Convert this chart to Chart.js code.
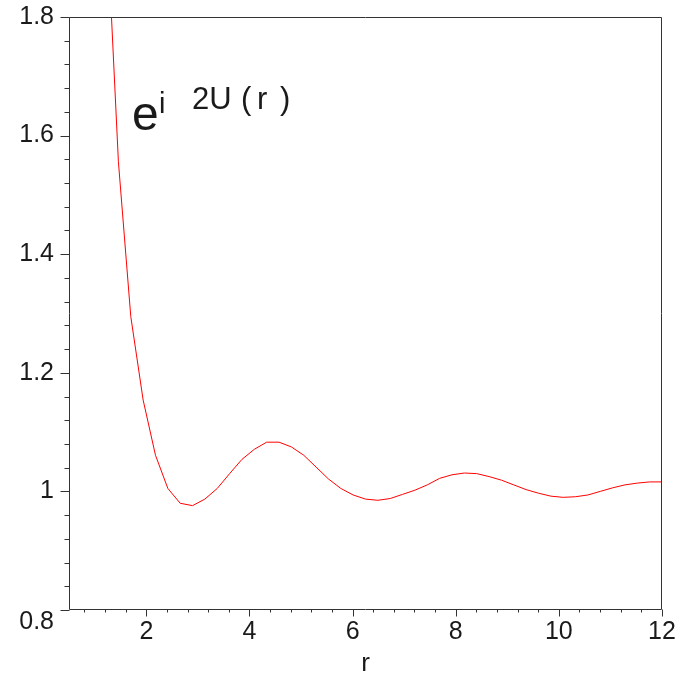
<!doctype html>
<html>

<head>
    <meta charset="utf-8" />
    <title>e^-2U(r)</title>
    <script src="https://cdn.jsdelivr.net/npm/chart.js@4.4.1/dist/chart.umd.min.js"></script>
    <style>
        html, body { margin: 0; padding: 0; background: #fff; }
        #wrap { width: 677px; height: 676px; position: relative; }
    </style>
</head>

<body>
    <div id="wrap"><canvas id="myChart"></canvas></div>
    <script>
        // sample points of the curve (r, e^-2U(r))
        var rValues = [1.219, 1.458, 1.698, 1.938, 2.177, 2.417, 2.656, 2.896, 3.135, 3.375,
            3.615, 3.854, 4.094, 4.333, 4.573, 4.813, 5.052, 5.292, 5.531, 5.771,
            6.010, 6.250, 6.490, 6.729, 6.969, 7.208, 7.448, 7.688, 7.927, 8.167,
            8.406, 8.646, 8.885, 9.125, 9.365, 9.604, 9.844, 10.083, 10.323, 10.563,
            10.802, 11.042, 11.281, 11.521, 11.760, 12.0];
        var gValues = [1.99, 1.556, 1.295, 1.154, 1.061, 1.005, 0.980, 0.976, 0.987, 1.005,
            1.030, 1.054, 1.071, 1.083, 1.083, 1.075, 1.061, 1.041, 1.021, 1.005,
            0.994, 0.987, 0.985, 0.988, 0.995, 1.002, 1.011, 1.022, 1.028, 1.031,
            1.030, 1.025, 1.019, 1.011, 1.003, 0.997, 0.992, 0.990, 0.991, 0.994,
            1.000, 1.006, 1.011, 1.014, 1.016, 1.016];

        var xTickLabels = ['2', '4', '6', '8', '10', '12'];
        var yTickLabels = ['0.8', '1', '1.2', '1.4', '1.6', '1.8'];

        var FONT = '"Liberation Sans", Arial, Helvetica, sans-serif';
        var INK = '#1a1a1a';

        function xLabel(v) {
            var s = String(Math.round(v * 10) / 10);
            return xTickLabels.indexOf(s) >= 0 ? s : '';
        }
        function yLabel(v) {
            var s = String(Math.round(v * 100) / 100);
            return yTickLabels.indexOf(s) >= 0 ? s : '';
        }

        // frame, minor/major tick marks, the shifted 0.8 label and the formula
        var framePlugin = {
            id: 'frame',
            afterDraw: function (chart) {
                var ctx = chart.ctx, a = chart.chartArea;
                var xs = chart.scales.x, ys = chart.scales.y;
                var L = Math.round(a.left) + 0.5, R = Math.round(a.right) - 0.5;
                var T = Math.round(a.top) + 0.5, B = Math.round(a.bottom) - 0.5;
                ctx.save();
                ctx.strokeStyle = '#333';
                ctx.lineWidth = 1;
                ctx.beginPath();
                ctx.rect(L, T, R - L, B - T);
                xs.ticks.forEach(function (t) {
                    var px = Math.round(xs.getPixelForValue(t.value)) + 0.5;
                    var len = xLabel(t.value) !== '' ? 7 : 3;
                    ctx.moveTo(px, B);
                    ctx.lineTo(px, B + len);
                });
                ys.ticks.forEach(function (t) {
                    var py = Math.round(ys.getPixelForValue(t.value)) + 0.5;
                    var len = yLabel(t.value) !== '' ? 9 : 5;
                    ctx.moveTo(L, py);
                    ctx.lineTo(L - len, py);
                });
                ctx.stroke();

                // 0.8 sits a bit below its tick
                ctx.fillStyle = INK;
                ctx.font = '25px ' + FONT;
                ctx.textAlign = 'right';
                ctx.textBaseline = 'middle';
                ctx.fillText(yTickLabels[0], ys.right - 15, ys.getPixelForValue(0.8) + 12);

                // formula label
                var ax = xs.getPixelForValue(1.72), ay = ys.getPixelForValue(1.61);
                ctx.textAlign = 'left';
                ctx.textBaseline = 'alphabetic';
                ctx.font = '48px ' + FONT;
                ctx.fillText('e', ax, ay);
                ctx.font = '29px ' + FONT;
                ctx.fillText('i', ax + 27, ay - 17);
                ctx.font = '31px ' + FONT;
                ctx.fillText('2U', ax + 60, ay - 21);
                ctx.fillText('(', ax + 109, ay - 21);
                ctx.fillText('r', ax + 125, ay - 21);
                ctx.fillText(')', ax + 148, ay - 21);
                ctx.restore();
            }
        };

        var points = rValues.map(function (r, i) { return { x: r, y: gValues[i] }; });

        var chart = new Chart(document.getElementById('myChart'), {
            type: 'line',
            data: {
                datasets: [{
                    label: 'e^-2U(r)',
                    data: points,
                    borderColor: '#ff0000',
                    borderWidth: 1,
                    pointRadius: 0,
                    tension: 0,
                    fill: false
                }]
            },
            options: {
                responsive: true,
                maintainAspectRatio: false,
                animation: false,
                layout: { padding: { top: 17, right: 15, bottom: 0, left: 0 } },
                plugins: { legend: { display: false }, tooltip: { enabled: false } },
                scales: {
                    x: {
                        type: 'linear',
                        min: 0.5,
                        max: 12,
                        afterFit: function (s) {
                            s.height = 66;
                            s.paddingLeft = 0;
                            s.paddingRight = 0;
                        },
                        border: { display: false },
                        grid: { display: false, drawTicks: false },
                        ticks: {
                            stepSize: 0.4,
                            includeBounds: false,
                            autoSkip: false,
                            maxRotation: 0,
                            padding: 7,
                            color: INK,
                            font: { family: FONT, size: 25 },
                            callback: function (v) { return xLabel(v); }
                        },
                        title: {
                            display: true,
                            text: 'r',
                            color: INK,
                            font: { family: FONT, size: 26 },
                            padding: { top: 0, bottom: -3 }
                        }
                    },
                    y: {
                        type: 'linear',
                        min: 0.8,
                        max: 1.8,
                        afterFit: function (s) {
                            s.width = 69;
                            s.paddingTop = 0;
                            s.paddingBottom = 0;
                        },
                        border: { display: false },
                        grid: { display: false, drawTicks: false },
                        ticks: {
                            stepSize: 0.04,
                            autoSkip: false,
                            padding: 15,
                            color: INK,
                            font: { family: FONT, size: 25 },
                            callback: function (v) {
                                var s = yLabel(v);
                                return s === yTickLabels[0] ? '' : s;
                            }
                        }
                    }
                }
            },
            plugins: [framePlugin]
        });
    </script>
</body>

</html>
